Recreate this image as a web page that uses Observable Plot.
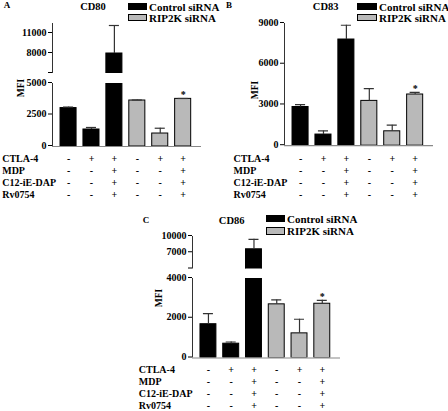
<!DOCTYPE html>
<html><head><meta charset="utf-8">
<script src="https://cdn.jsdelivr.net/npm/d3@7"></script>
<script src="https://cdn.jsdelivr.net/npm/@observablehq/plot@0.6"></script>
<style>
body{margin:0;background:#fff}
#fig{position:relative;width:448px;height:411px;overflow:hidden;font-family:"Liberation Serif","Times New Roman",serif;color:#000}
#fig svg{overflow:visible}
.lab{position:absolute;white-space:nowrap;line-height:1}
</style></head>
<body><div id="fig"></div>
<script>
// ---- data ----
const groups = [1, 2, 3, 4, 5, 6];
const siRNA = ["Control siRNA", "Control siRNA", "Control siRNA", "RIP2K siRNA", "RIP2K siRNA", "RIP2K siRNA"];
const siRNATypes = ["Control siRNA", "RIP2K siRNA"];

const cd80Mean = [3050, 1350, 8000, 3650, 1030, 3780];
const cd80Sem  = [80, 160, 4200, 40, 420, 30];
const cd80Sig  = ["", "", "", "", "", "*"];

const cd83Mean = [2850, 820, 7820, 3300, 1060, 3770];
const cd83Sem  = [180, 270, 1050, 910, 450, 150];
const cd83Sig  = ["", "", "", "", "", "*"];

const cd86Mean = [1700, 720, 7640, 2700, 1240, 2730];
const cd86Sem  = [530, 85, 1840, 220, 710, 170];
const cd86Sig  = ["", "", "", "", "", "*"];

const treatments = ["CTLA-4", "MDP", "C12-iE-DAP", "Rv0754"];
const ctla4    = ["-", "+", "+", "-", "+", "+"];
const mdp      = ["-", "-", "+", "-", "-", "+"];
const c12ieDap = ["-", "-", "+", "-", "-", "+"];
const rv0754   = ["-", "-", "+", "-", "-", "+"];

const cd80Ticks = {upper: [5000, 8000, 11000], lower: [0, 2500, 5000]};
const cd83Ticks = {lower: [0, 3000, 6000, 9000]};
const cd86Ticks = {upper: [4000, 7000, 10000], lower: [0, 2000, 4000]};

// ---- styling / layout ----
const FONT = '"Liberation Serif","Times New Roman",serif';
const barColors = ["#000000", "#b9b9b9"];
const xDomain = [0.3, 6.8];
const rowH = 12.4;
const fig = document.getElementById("fig");

function rowsOf(mean, sem, sig) {
  return groups.map((g, i) => ({pos: g, siRNA: siRNA[i], mean: mean[i], hi: mean[i] + sem[i], sig: sig[i]}));
}
const signRows = [ctla4, mdp, c12ieDap, rv0754];
const cells = treatments.flatMap((t, r) => groups.map((g, i) => ({row: t, pos: g, sign: signRows[r][i]})));

function place(node, left, top) {
  node.style.position = "absolute";
  node.style.left = left + "px";
  node.style.top = top + "px";
  fig.appendChild(node);
}
function label(text, x, y, size, weight, anchor, rotate) {
  const d = document.createElement("div");
  d.className = "lab";
  d.textContent = text;
  d.style.left = x + "px";
  d.style.top = y + "px";
  d.style.fontSize = size + "px";
  d.style.fontWeight = weight;
  d.style.transform = (anchor === "start" ? "translate(0,-50%)" : "translate(-50%,-50%)") + (rotate ? " rotate(-90deg)" : "");
  fig.appendChild(d);
}
function swatch(x, y, w, h, color) {
  const d = document.createElement("div");
  d.style.cssText = `position:absolute;left:${x}px;top:${y}px;width:${w}px;height:${h}px;background:${color};border:1px solid #000;box-sizing:border-box`;
  fig.appendChild(d);
}

const baseStyle = {fontFamily: FONT, fontSize: "10px", background: "none", overflow: "visible", color: "#000"};

function segment(p, seg, rows, ticks, blank, isLower) {
  const mt = 8, mb = 8;
  const svg = Plot.plot({
    width: p.right - p.left + 6,
    height: seg.bottom - seg.top + mt + mb,
    marginLeft: p.axisX - p.left, marginRight: 6, marginTop: mt, marginBottom: mb,
    x: {domain: xDomain, axis: null},
    y: {domain: seg.domain, axis: null},
    color: {domain: siRNATypes, range: barColors},
    style: baseStyle,
    marks: [
      Plot.rectY(rows, {x1: d => d.pos - 0.35, x2: d => d.pos + 0.35, y1: 0, y2: "mean", fill: "siRNA", stroke: "#000", strokeWidth: 1, clip: true}),
      Plot.ruleX(rows, {x: "pos", y1: "mean", y2: "hi", stroke: "#333", strokeWidth: 1.2, clip: true}),
      Plot.ruleY(rows, {y: "hi", x1: d => d.pos - 0.22, x2: d => d.pos + 0.22, stroke: "#333", strokeWidth: 1.2, clip: true}),
      Plot.ruleX([xDomain[0]], {stroke: "#333", strokeWidth: 1}),
      Plot.axisY({ticks, tickSize: 4, tickPadding: 2, fontWeight: "bold", fontSize: 10, dy: -1,
        tickFormat: d => (blank.includes(d) ? "" : String(d))}),
      isLower ? Plot.ruleY([0], {stroke: "#888", strokeWidth: 1.2}) : null,
      isLower ? Plot.text(rows.filter(d => d.sig), {x: "pos", y: "hi", text: "sig", dy: -4, fontSize: 10, fontWeight: "bold"}) : null
    ]
  });
  place(svg, p.left, seg.top - mt);
}

function table(p) {
  const svg = Plot.plot({
    width: p.right - p.left + 6,
    height: rowH * treatments.length,
    marginLeft: p.axisX - p.left, marginRight: 6, marginTop: 0, marginBottom: 0,
    x: {domain: xDomain, axis: null},
    y: {type: "point", domain: treatments, axis: null, padding: 0.5},
    style: baseStyle,
    marks: [
      Plot.text(cells, {x: "pos", y: "row", text: "sign", fontSize: 10, fontWeight: "bold"}),
      Plot.text(treatments, {y: d => d, text: d => d, frameAnchor: "left", textAnchor: "start", dx: p.labelX - p.axisX, fontSize: 10, fontWeight: "bold"})
    ]
  });
  place(svg, p.left, p.tableTop);
}

function panel(p) {
  const rows = rowsOf(p.mean, p.sem, p.sig);
  if (p.upper) segment(p, p.upper, rows, p.ticks.upper, [p.upper.domain[0]], false);
  segment(p, p.lower, rows, p.ticks.lower, [], true);
  table(p);
  label(p.letter, p.letterX, p.letterY, 9, "bold", "middle");
  label(p.title, p.titleX, p.titleY, 10.5, "bold", "middle");
  label("MFI", p.mfiX, p.mfiY, 9.5, "bold", "middle", true);
  swatch(p.legX, p.legY[0], p.legW, 7.5, barColors[0]);
  swatch(p.legX, p.legY[1], p.legW, 7.5, barColors[1]);
  label(siRNATypes[0], p.legX + p.legW + 2, p.legY[0] + 4, 11, "bold", "start");
  label(siRNATypes[1], p.legX + p.legW + 2, p.legY[1] + 4, 11, "bold", "start");
}

panel({
  letter: "A", letterX: 7, letterY: 5, title: "CD80", titleX: 93, titleY: 6.5, mfiX: 21.5, mfiY: 88,
  legX: 128, legW: 19, legY: [2.5, 13.5],
  left: 0, axisX: 52, right: 201, labelX: 1.7, tableTop: 151.3,
  upper: {top: 23, bottom: 73, domain: [5000, 12500]},
  lower: {top: 83, bottom: 146, domain: [0, 5000]},
  ticks: cd80Ticks, mean: cd80Mean, sem: cd80Sem, sig: cd80Sig
});
panel({
  letter: "B", letterX: 229, letterY: 5, title: "CD83", titleX: 325.7, titleY: 7, mfiX: 255.7, mfiY: 90,
  legX: 357, legW: 20, legY: [2.5, 13.5],
  left: 224, axisX: 284, right: 433, labelX: 233, tableTop: 150.5,
  lower: {top: 23.3, bottom: 145.5, domain: [0, 9000]},
  ticks: cd83Ticks, mean: cd83Mean, sem: cd83Sem, sig: cd83Sig
});
panel({
  letter: "C", letterX: 146, letterY: 220, title: "CD86", titleX: 231.7, titleY: 220.7, mfiX: 160, mfiY: 298,
  legX: 266, legW: 19, legY: [214.5, 227],
  left: 110, axisX: 192, right: 340, labelX: 138.3, tableTop: 361.8,
  upper: {top: 235.5, bottom: 268, domain: [4000, 10000]},
  lower: {top: 277.5, bottom: 357, domain: [0, 4000]},
  ticks: cd86Ticks, mean: cd86Mean, sem: cd86Sem, sig: cd86Sig
});
</script>
</body></html>
